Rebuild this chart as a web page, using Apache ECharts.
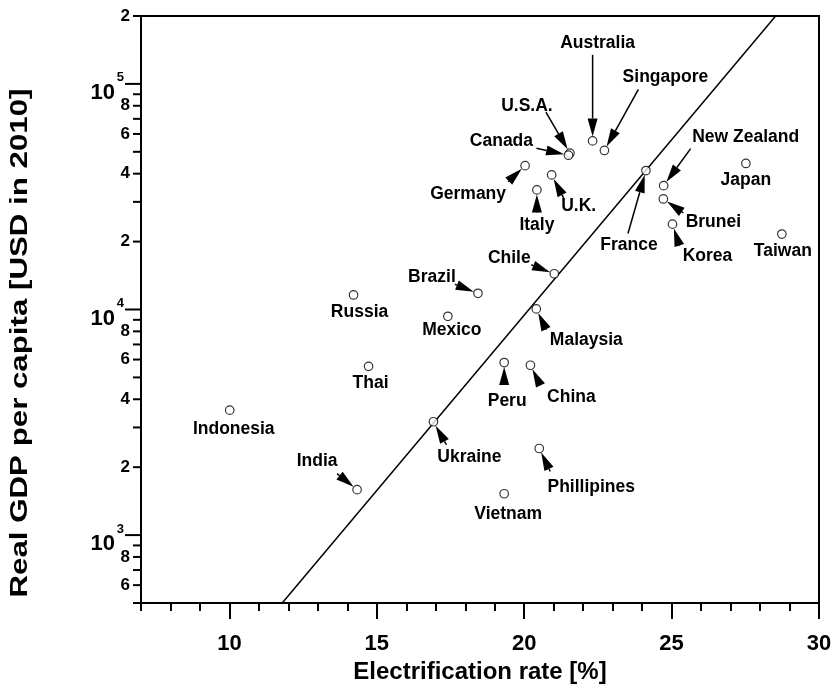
<!DOCTYPE html>
<html>
<head>
<meta charset="utf-8">
<script src="https://cdn.jsdelivr.net/npm/echarts@6/dist/echarts.min.js"></script>
<style>
  html, body { margin: 0; padding: 0; background: #fff; }
  #chart { width: 835px; height: 686px; }
</style>
</head>
<body>
<div id="chart"></div>
<script>
// Countries, electrification rate [%] and real GDP per capita [USD, 2010]
const countries = ['Australia', 'Singapore', 'U.S.A.', 'Canada', 'Germany', 'U.K.', 'Italy',
  'France', 'New Zealand', 'Japan', 'Brunei', 'Korea', 'Taiwan', 'Chile', 'Brazil', 'Russia',
  'Mexico', 'Malaysia', 'Thai', 'Peru', 'China', 'Ukraine', 'Indonesia', 'India',
  'Phillipines', 'Vietnam'];
const electrification = [22.32, 22.72, 21.55, 21.5, 20.03, 20.93, 20.43,
  24.13, 24.73, 27.52, 24.72, 25.03, 28.74, 21.02, 18.43, 14.21,
  17.41, 20.41, 14.72, 19.32, 20.21, 16.92, 10.01, 14.33,
  20.51, 19.32];
const gdpPerCapita = [55900, 50700, 49300, 48300, 43400, 39500, 33900,
  41300, 35400, 44400, 30900, 23900, 21600, 14400, 11800, 11600,
  9330, 10060, 5600, 5820, 5660, 3180, 3580, 1590,
  2420, 1525];

// Regression line end points
const fitRate = [11.79, 28.53];
const fitGdp = [500, 200000];

// Axis ticks
const xMajorTicks = [10, 15, 20, 25, 30];
const xMinorTicks = [7, 8, 9, 10, 11, 12, 13, 14, 15, 16, 17, 18, 19, 20, 21, 22, 23, 24, 25, 26, 27, 28, 29, 30];
const yTickValues = [500, 600, 700, 800, 900, 1000, 2000, 3000, 4000, 5000, 6000, 7000, 8000, 9000,
  10000, 20000, 30000, 40000, 50000, 60000, 70000, 80000, 90000, 100000, 200000];
const yTickLabels = ['', '6', '', '8', '', '10^3', '2', '', '4', '', '6', '', '8', '',
  '10^4', '2', '', '4', '', '6', '', '8', '', '10^5', '2'];

const X_MIN = 7, X_MAX = 30, Y_MIN = 500, Y_MAX = 200000;

// Label placement around each marker (pixel offsets from the marker centre)
const labelLayout = {
  'Australia':   { text: [5, -98],  arrow: [0, -86] },
  'Singapore':   { text: [61, -73], arrow: [34, -61] },
  'U.S.A.':      { text: [-43, -47], arrow: [-24, -41] },
  'Canada':      { text: [-67, -14], arrow: [-32, -7] },
  'Germany':     { text: [-57, 28], arrow: [-17, 16] },
  'U.K.':        { text: [27, 31],  arrow: [12, 23] },
  'Italy':       { text: [0, 35],   arrow: [0, 23] },
  'France':      { text: [-17, 75], arrow: [-18, 63] },
  'New Zealand': { text: [82, -48], arrow: [27, -37] },
  'Japan':       { text: [0, 17] },
  'Brunei':      { text: [50, 23],  arrow: [20, 14] },
  'Korea':       { text: [35, 32],  arrow: [7, 22] },
  'Taiwan':      { text: [1, 17] },
  'Chile':       { text: [-45, -16], arrow: [-23, -9] },
  'Brazil':      { text: [-46, -16], arrow: [-23, -9] },
  'Russia':      { text: [6, 17] },
  'Mexico':      { text: [4, 14] },
  'Malaysia':    { text: [50, 31],  arrow: [10, 21] },
  'Thai':        { text: [2, 17] },
  'Peru':        { text: [3, 39],   arrow: [0, 22] },
  'China':       { text: [41, 32],  arrow: [10, 20] },
  'Ukraine':     { text: [36, 35],  arrow: [13, 23] },
  'Indonesia':   { text: [4, 19] },
  'India':       { text: [-40, -28], arrow: [-20, -16] },
  'Phillipines': { text: [52, 39],  arrow: [11, 23] },
  'Vietnam':     { text: [4, 20] }
};

const FONT = '"Liberation Sans", Arial, Helvetica, sans-serif';

const points = electrification.map((x, i) => [x, gdpPerCapita[i]]);

function arrowShapes(p, start) {
  const sx = p[0] + start[0], sy = p[1] + start[1];
  let dx = sx - p[0], dy = sy - p[1];
  const len = Math.sqrt(dx * dx + dy * dy);
  dx /= len; dy /= len;
  const r = 4.5, headLen = 18, headHalf = 5;
  const tip = [p[0] + dx * r, p[1] + dy * r];
  const base = [tip[0] + dx * headLen, tip[1] + dy * headLen];
  const nx = -dy, ny = dx;
  return [
    { type: 'line', shape: { x1: sx, y1: sy, x2: base[0], y2: base[1] },
      style: { stroke: '#000', lineWidth: 1.5 } },
    { type: 'polygon', shape: { points: [tip,
        [base[0] + nx * headHalf, base[1] + ny * headHalf],
        [base[0] - nx * headHalf, base[1] - ny * headHalf]] },
      style: { fill: '#000' } }
  ];
}

const chart = echarts.init(document.getElementById('chart'), null, { renderer: 'canvas' });

chart.setOption({
  backgroundColor: '#fff',
  animation: false,
  grid: {
    left: 141, right: 16, top: 16, bottom: 83,
    show: true, borderColor: '#000', borderWidth: 2,
    containLabel: false, outerBoundsMode: 'none'
  },
  xAxis: [{
    type: 'value', min: X_MIN, max: X_MAX, position: 'bottom',
    splitLine: { show: false },
    axisLine: { show: true, onZero: false, lineStyle: { color: '#000', width: 2 } },
    axisTick: { show: true, customValues: xMajorTicks, length: 16, lineStyle: { color: '#000', width: 2 } },
    axisLabel: { customValues: xMajorTicks, margin: 30, color: '#000',
      fontFamily: FONT, fontWeight: 'bold', fontSize: 22 },
    name: 'Electrification rate [%]', nameLocation: 'middle', nameGap: 49,
    nameTextStyle: { color: '#000', fontFamily: FONT, fontWeight: 'bold', fontSize: 24 }
  }, {
    type: 'value', min: X_MIN, max: X_MAX, position: 'bottom',
    splitLine: { show: false },
    axisLine: { show: false },
    axisTick: { show: true, customValues: xMinorTicks, length: 8, lineStyle: { color: '#000', width: 2 } },
    axisLabel: { show: false }
  }],
  yAxis: {
    type: 'log', logBase: 10, min: Y_MIN, max: Y_MAX,
    splitLine: { show: false },
    axisLine: { show: true, onZero: false, lineStyle: { color: '#000', width: 2 } },
    axisTick: { show: false },
    axisLabel: { show: false }
  },
  graphic: [{
    type: 'text', x: 21, y: 343, rotation: Math.PI / 2, scaleX: 1.33,
    style: { text: 'Real GDP per capita [USD in 2010]', fill: '#000',
      font: 'bold 23.5px ' + FONT, align: 'center', verticalAlign: 'middle' }
  }],
  series: [{
    // log-axis ticks with decade labels
    type: 'custom',
    silent: true,
    xAxisIndex: 0,
    data: yTickValues.map(v => [X_MIN, v]),
    renderItem(params, api) {
      const i = params.dataIndex;
      const p = api.coord([api.value(0), api.value(1)]);
      const label = yTickLabels[i];
      const decade = label.indexOf('^') > 0;
      const len = decade ? 16 : 8;
      const children = [{
        type: 'line', shape: { x1: p[0] - len, y1: p[1], x2: p[0], y2: p[1] },
        style: { stroke: '#000', lineWidth: 2 }
      }];
      if (decade) {
        const parts = label.split('^');
        children.push({ type: 'text', x: p[0] - 26, y: p[1] + 9,
          style: { text: parts[0], fill: '#000', font: 'bold 22px ' + FONT, align: 'right', verticalAlign: 'middle' } });
        children.push({ type: 'text', x: p[0] - 17, y: p[1] - 6,
          style: { text: parts[1], fill: '#000', font: 'bold 13px ' + FONT, align: 'right', verticalAlign: 'middle' } });
      } else if (label) {
        children.push({ type: 'text', x: p[0] - 11, y: p[1],
          style: { text: label, fill: '#000', font: 'bold 17px ' + FONT, align: 'right', verticalAlign: 'middle' } });
      }
      return { type: 'group', children };
    }
  }, {
    type: 'line',
    data: fitRate.map((x, i) => [x, fitGdp[i]]),
    showSymbol: false,
    silent: true,
    lineStyle: { color: '#000', width: 1.5 },
    z: 2
  }, {
    // country names with pointer arrows
    type: 'custom',
    silent: true,
    data: points,
    renderItem(params, api) {
      const i = params.dataIndex;
      const p = api.coord([api.value(0), api.value(1)]);
      const lay = labelLayout[countries[i]];
      const children = [{
        type: 'text', x: p[0] + lay.text[0], y: p[1] + lay.text[1],
        style: { text: countries[i], fill: '#000', font: 'bold 17.5px ' + FONT,
          align: 'center', verticalAlign: 'middle' }
      }];
      if (lay.arrow) children.push(...arrowShapes(p, lay.arrow));
      return { type: 'group', children };
    },
    z: 3
  }, {
    type: 'scatter',
    data: points,
    symbol: 'circle',
    symbolSize: 8.5,
    silent: true,
    itemStyle: { color: '#fff', borderColor: '#000', borderWidth: 1.2 },
    z: 4
  }]
});
</script>
</body>
</html>
